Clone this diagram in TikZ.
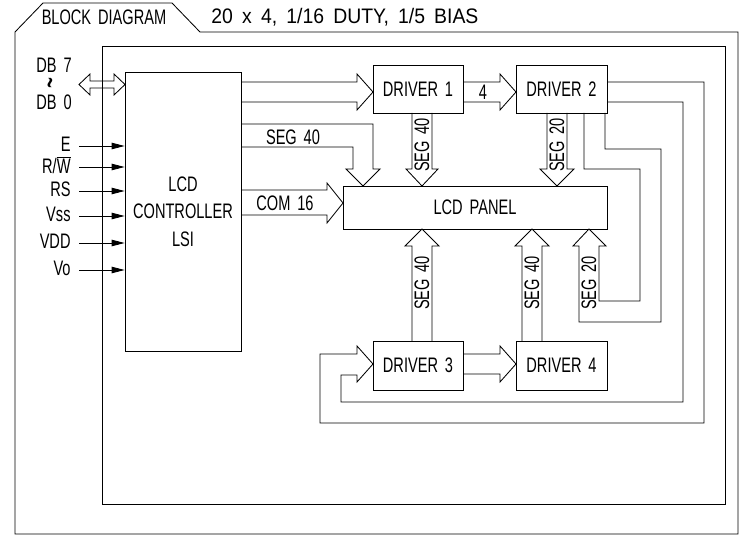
\documentclass[tikz,border=0pt]{standalone}
\usepackage{graphicx}
\usepackage{fontspec}
\setmainfont[FakeStretch=0.695,WordSpace=1.7]{Liberation Sans}
\usetikzlibrary{arrows.meta,calc}
\begin{document}
\begin{tikzpicture}[x=1pt,y=-1pt,line width=0.85pt,
  every node/.style={inner sep=0pt,font=\fontsize{21}{27.5}\selectfont},
  box/.style={draw,line width=0.85pt},
  blk/.style={draw,line width=0.85pt,line join=miter},
  inarrow/.style={draw,line width=0.85pt,-{Triangle[length=13pt,width=6.5pt]}},
  lbl/.style={inner sep=0pt}]
\fill[white] (0,0) rectangle (740,535);
\useasboundingbox (0,0) rectangle (740,535);

% frames
\draw (15,534) -- (15,32) -- (43,3) -- (172,3) -- (200,32) -- (738,32) -- (738,534) -- cycle;
\draw (102,46) rectangle (725,504);

% title texts
\node[lbl] (tab) at (104,17.5) {BLOCK DIAGRAM};
\node[lbl,anchor=west] (spec) at (211,17.5) {\resizebox{267pt}{\height}{20 x 4, 1/16 DUTY, 1/5 BIAS}};

% blocks
\node[box,minimum width=116,minimum height=279,align=center] (ctrl) at (183,211.5) {LCD\\CONTROLLER\\LSI};
\node[box,minimum width=90,minimum height=48] (drv1) at (418,89) {DRIVER 1};
\node[box,minimum width=91,minimum height=48] (drv2) at (561.5,89) {DRIVER 2};
\node[box,minimum width=264,minimum height=43] (panel) at (475,207.5) {LCD PANEL};
\node[box,minimum width=90,minimum height=49] (drv3) at (418,365.5) {DRIVER 3};
\node[box,minimum width=91,minimum height=49] (drv4) at (561.5,365.5) {DRIVER 4};

% data bus labels and double arrow
\node[lbl] (db7) at (54,65) {DB 7};
\node[lbl,rotate=90] (dbto) at (55,83) {\resizebox{11pt}{15pt}{\textasciitilde}};
\node[lbl] (db0) at (54,102) {DB 0};
\draw[blk] (79,84.5) -- (90,74) -- (90,81) -- (114,81) -- (114,74) -- (125,84.5)
  -- (114,95) -- (114,88) -- (90,88) -- (90,95) -- cycle;

% control inputs
\foreach \nm/\yy/\tx in {iE/146/E, iRW/167/{R/$\overline{\mbox{W}}$}, iRS/191/RS, iVss/216/Vss, iVDD/243/VDD, iVo/270/Vo}{
  \coordinate (\nm) at (79,\yy);
  \node[lbl,anchor=east] (\nm l) at (71,\yy-2) {\tx};
  \draw[inarrow] (\nm) -- (\nm -| ctrl.west);
}

% controller -> driver 1
\draw[blk] (241,82) -- (357,82) -- (357,74) -- (373,92) -- (357,110) -- (357,102) -- (241,102);
% driver 1 -> driver 2
\draw[blk] (463,82) -- (500,82) -- (500,74) -- (516,92) -- (500,110) -- (500,102) -- (463,102);
\node[lbl] (l4) at (483,92) {4};
% controller SEG 40 -> panel
\draw[blk] (241,124) -- (373,124) -- (373,169) -- (380,169) -- (363,186) -- (346,169) -- (353,169) -- (353,147) -- (241,147);
\node[lbl] (lseg) at (293,137) {SEG 40};
% COM 16
\draw[blk] (241,190) -- (327,190) -- (327,183) -- (343,203) -- (327,223) -- (327,215) -- (241,215);
\node[lbl] (lcom) at (285,203) {COM 16};
% driver 1 SEG 40 down
\draw[blk] (412,113) -- (412,169) -- (406,169) -- (422,186) -- (438,169) -- (432,169) -- (432,113);
\node[lbl,rotate=90] (l1) at (422,145) {SEG 40};
% driver 2 SEG 20 down
\draw[blk] (547,113) -- (547,169) -- (540,169) -- (557,186) -- (574,169) -- (567,169) -- (567,113);
\node[lbl,rotate=90] (l2) at (557,145) {SEG 20};
% driver 3 SEG 40 up
\draw[blk] (412,341) -- (412,246) -- (405,246) -- (422,229) -- (439,246) -- (432,246) -- (432,341);
\node[lbl,rotate=90] (l3) at (422,283) {SEG 40};
% driver 4 SEG 40 up
\draw[blk] (522,341) -- (522,246) -- (515,246) -- (532,229) -- (549,246) -- (542,246) -- (542,341);
\node[lbl,rotate=90] (l5) at (532,283) {SEG 40};
% driver 2 SEG 20 loop up
\draw[blk] (605,113) -- (605,149) -- (661,149) -- (661,322) -- (579,322) -- (579,246) -- (573,246)
  -- (589,229) -- (606,246) -- (599,246) -- (599,301) -- (640,301) -- (640,169) -- (584,169) -- (584,113);
\node[lbl,rotate=90] (l6) at (589,283) {SEG 20};
% driver 3 -> driver 4
\draw[blk] (463,354) -- (500,354) -- (500,346) -- (516,364) -- (500,382) -- (500,374) -- (463,374);
% driver 2 -> driver 3 loop
\draw[blk] (607,82) -- (704,82) -- (704,423) -- (320,423) -- (320,354) -- (357,354) -- (357,346)
  -- (373,364) -- (357,382) -- (357,375) -- (341,375) -- (341,402) -- (683,402) -- (683,102) -- (607,102);
\end{tikzpicture}
\end{document}
